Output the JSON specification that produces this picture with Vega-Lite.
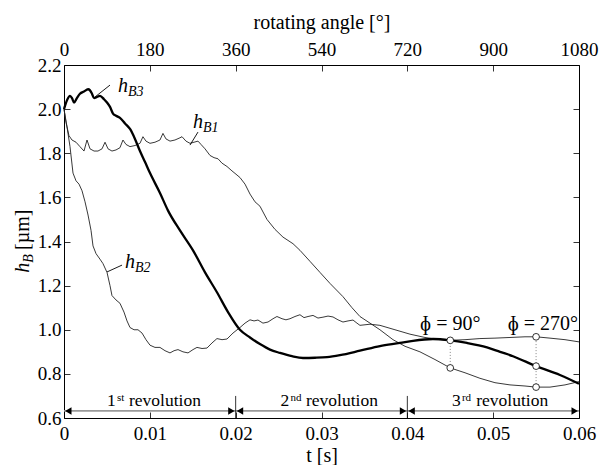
{
  "$schema": "https://vega.github.io/schema/vega-lite/v6.json",
  "width": 515,
  "height": 353,
  "autosize": {"type": "none"},
  "padding": {"left": 64, "top": 65, "right": 29, "bottom": 47},
  "background": "white",
  "config": {
    "font": "'Liberation Serif', 'Times New Roman', serif",
    "view": {"stroke": "black", "strokeWidth": 1},
    "axis": {"labelFont": "'Liberation Serif', 'Times New Roman', serif", "titleFont": "'Liberation Serif', 'Times New Roman', serif", "labelFontSize": 19, "titleFontSize": 20, "labelColor": "black", "titleColor": "black", "titleFontWeight": "normal", "tickColor": "black", "grid": false, "tickWidth": 0.8, "domain": false, "labelFlush": false, "labelOverlap": false},
    "text": {"font": "'Liberation Serif', 'Times New Roman', serif", "color": "black"}
  },
  "data": {"values": [
    {"k":"B3","t":0,"h":2.0},{"k":"B3","t":0.00035,"h":2.04},{"k":"B3","t":0.0007,"h":2.06},{"k":"B3","t":0.00093,"h":2.05},{"k":"B3","t":0.00117,"h":2.03},{"k":"B3","t":0.0015,"h":2.05},{"k":"B3","t":0.00186,"h":2.07},{"k":"B3","t":0.00233,"h":2.08},{"k":"B3","t":0.0028,"h":2.09},{"k":"B3","t":0.00303,"h":2.085},{"k":"B3","t":0.00326,"h":2.07},{"k":"B3","t":0.0035,"h":2.05},{"k":"B3","t":0.00384,"h":2.055},{"k":"B3","t":0.00419,"h":2.06},{"k":"B3","t":0.00466,"h":2.045},{"k":"B3","t":0.00501,"h":2.03},{"k":"B3","t":0.00536,"h":2.01},{"k":"B3","t":0.00571,"h":1.98},{"k":"B3","t":0.00606,"h":1.97},{"k":"B3","t":0.00652,"h":1.96},{"k":"B3","t":0.00711,"h":1.935},{"k":"B3","t":0.00769,"h":1.91},{"k":"B3","t":0.00827,"h":1.865},{"k":"B3","t":0.00885,"h":1.81},{"k":"B3","t":0.00944,"h":1.76},{"k":"B3","t":0.01002,"h":1.71},{"k":"B3","t":0.01118,"h":1.62},{"k":"B3","t":0.01212,"h":1.54},{"k":"B3","t":0.01351,"h":1.45},{"k":"B3","t":0.01503,"h":1.36},{"k":"B3","t":0.01643,"h":1.26},{"k":"B3","t":0.01782,"h":1.17},{"k":"B3","t":0.01911,"h":1.08},{"k":"B3","t":0.0205,"h":1.0},{"k":"B3","t":0.02167,"h":0.965},{"k":"B3","t":0.02283,"h":0.935},{"k":"B3","t":0.024,"h":0.91},{"k":"B3","t":0.02516,"h":0.895},{"k":"B3","t":0.02656,"h":0.88},{"k":"B3","t":0.02784,"h":0.872},{"k":"B3","t":0.02924,"h":0.873},{"k":"B3","t":0.03064,"h":0.876},{"k":"B3","t":0.03215,"h":0.885},{"k":"B3","t":0.03448,"h":0.905},{"k":"B3","t":0.03681,"h":0.926},{"k":"B3","t":0.03914,"h":0.94},{"k":"B3","t":0.04066,"h":0.95},{"k":"B3","t":0.04299,"h":0.958},{"k":"B3","t":0.045,"h":0.952},{"k":"B3","t":0.04695,"h":0.94},{"k":"B3","t":0.04928,"h":0.92},{"k":"B3","t":0.0508,"h":0.9},{"k":"B3","t":0.05231,"h":0.88},{"k":"B3","t":0.055,"h":0.835},{"k":"B3","t":0.05778,"h":0.795},{"k":"B3","t":0.06,"h":0.755},
    {"k":"B1","t":0,"h":2.0},{"k":"B1","t":0.00023,"h":1.94},{"k":"B1","t":0.00058,"h":1.88},{"k":"B1","t":0.00093,"h":1.86},{"k":"B1","t":0.0014,"h":1.85},{"k":"B1","t":0.00186,"h":1.83},{"k":"B1","t":0.00233,"h":1.81},{"k":"B1","t":0.00268,"h":1.86},{"k":"B1","t":0.00303,"h":1.82},{"k":"B1","t":0.0035,"h":1.81},{"k":"B1","t":0.00396,"h":1.81},{"k":"B1","t":0.00443,"h":1.82},{"k":"B1","t":0.00478,"h":1.85},{"k":"B1","t":0.00513,"h":1.82},{"k":"B1","t":0.00559,"h":1.81},{"k":"B1","t":0.00606,"h":1.815},{"k":"B1","t":0.00652,"h":1.825},{"k":"B1","t":0.00687,"h":1.86},{"k":"B1","t":0.00722,"h":1.84},{"k":"B1","t":0.00769,"h":1.83},{"k":"B1","t":0.00827,"h":1.835},{"k":"B1","t":0.00885,"h":1.845},{"k":"B1","t":0.0092,"h":1.875},{"k":"B1","t":0.00955,"h":1.855},{"k":"B1","t":0.01002,"h":1.845},{"k":"B1","t":0.0106,"h":1.85},{"k":"B1","t":0.01118,"h":1.86},{"k":"B1","t":0.01153,"h":1.89},{"k":"B1","t":0.01188,"h":1.865},{"k":"B1","t":0.01235,"h":1.855},{"k":"B1","t":0.01293,"h":1.86},{"k":"B1","t":0.01351,"h":1.87},{"k":"B1","t":0.01375,"h":1.875},{"k":"B1","t":0.01421,"h":1.855},{"k":"B1","t":0.01468,"h":1.845},{"k":"B1","t":0.01515,"h":1.85},{"k":"B1","t":0.01561,"h":1.855},{"k":"B1","t":0.01596,"h":1.84},{"k":"B1","t":0.01643,"h":1.82},{"k":"B1","t":0.01701,"h":1.79},{"k":"B1","t":0.01748,"h":1.78},{"k":"B1","t":0.01794,"h":1.775},{"k":"B1","t":0.01841,"h":1.755},{"k":"B1","t":0.01899,"h":1.74},{"k":"B1","t":0.01957,"h":1.72},{"k":"B1","t":0.02004,"h":1.705},{"k":"B1","t":0.0205,"h":1.69},{"k":"B1","t":0.02109,"h":1.66},{"k":"B1","t":0.02167,"h":1.615},{"k":"B1","t":0.02225,"h":1.58},{"k":"B1","t":0.02283,"h":1.56},{"k":"B1","t":0.02365,"h":1.5},{"k":"B1","t":0.02458,"h":1.455},{"k":"B1","t":0.02551,"h":1.42},{"k":"B1","t":0.02668,"h":1.39},{"k":"B1","t":0.02749,"h":1.36},{"k":"B1","t":0.02866,"h":1.31},{"k":"B1","t":0.02982,"h":1.26},{"k":"B1","t":0.03099,"h":1.21},{"k":"B1","t":0.0325,"h":1.15},{"k":"B1","t":0.03355,"h":1.1},{"k":"B1","t":0.03448,"h":1.06},{"k":"B1","t":0.03565,"h":1.03},{"k":"B1","t":0.03681,"h":1.0},{"k":"B1","t":0.03833,"h":0.955},{"k":"B1","t":0.03973,"h":0.925},{"k":"B1","t":0.04147,"h":0.9},{"k":"B1","t":0.04322,"h":0.865},{"k":"B1","t":0.045,"h":0.827},{"k":"B1","t":0.04672,"h":0.805},{"k":"B1","t":0.04846,"h":0.78},{"k":"B1","t":0.05021,"h":0.76},{"k":"B1","t":0.05196,"h":0.75},{"k":"B1","t":0.05371,"h":0.745},{"k":"B1","t":0.055,"h":0.74},{"k":"B1","t":0.05662,"h":0.74},{"k":"B1","t":0.05837,"h":0.75},{"k":"B1","t":0.06,"h":0.765},
    {"k":"B2","t":0,"h":2.0},{"k":"B2","t":0.00035,"h":1.92},{"k":"B2","t":0.0007,"h":1.83},{"k":"B2","t":0.00105,"h":1.71},{"k":"B2","t":0.0014,"h":1.675},{"k":"B2","t":0.00175,"h":1.66},{"k":"B2","t":0.0021,"h":1.63},{"k":"B2","t":0.00245,"h":1.58},{"k":"B2","t":0.0028,"h":1.52},{"k":"B2","t":0.00315,"h":1.45},{"k":"B2","t":0.00338,"h":1.38},{"k":"B2","t":0.00373,"h":1.345},{"k":"B2","t":0.00419,"h":1.32},{"k":"B2","t":0.00454,"h":1.3},{"k":"B2","t":0.00501,"h":1.26},{"k":"B2","t":0.00536,"h":1.2},{"k":"B2","t":0.00559,"h":1.155},{"k":"B2","t":0.00606,"h":1.135},{"k":"B2","t":0.00652,"h":1.12},{"k":"B2","t":0.00699,"h":1.08},{"k":"B2","t":0.00734,"h":1.04},{"k":"B2","t":0.00769,"h":1.01},{"k":"B2","t":0.00816,"h":1.0},{"k":"B2","t":0.00862,"h":1.0},{"k":"B2","t":0.00909,"h":0.985},{"k":"B2","t":0.00955,"h":0.955},{"k":"B2","t":0.01002,"h":0.93},{"k":"B2","t":0.0106,"h":0.92},{"k":"B2","t":0.01118,"h":0.92},{"k":"B2","t":0.01177,"h":0.905},{"k":"B2","t":0.01235,"h":0.895},{"k":"B2","t":0.01282,"h":0.905},{"k":"B2","t":0.01328,"h":0.91},{"k":"B2","t":0.01386,"h":0.9},{"k":"B2","t":0.01445,"h":0.895},{"k":"B2","t":0.01503,"h":0.91},{"k":"B2","t":0.01549,"h":0.92},{"k":"B2","t":0.01608,"h":0.915},{"k":"B2","t":0.01666,"h":0.917},{"k":"B2","t":0.01724,"h":0.94},{"k":"B2","t":0.01782,"h":0.96},{"k":"B2","t":0.01841,"h":0.955},{"k":"B2","t":0.01899,"h":0.958},{"k":"B2","t":0.01969,"h":0.985},{"k":"B2","t":0.0205,"h":1.01},{"k":"B2","t":0.02109,"h":1.03},{"k":"B2","t":0.02167,"h":1.045},{"k":"B2","t":0.02214,"h":1.04},{"k":"B2","t":0.0226,"h":1.044},{"k":"B2","t":0.02318,"h":1.03},{"k":"B2","t":0.02377,"h":1.035},{"k":"B2","t":0.02435,"h":1.05},{"k":"B2","t":0.02481,"h":1.06},{"k":"B2","t":0.0254,"h":1.05},{"k":"B2","t":0.02586,"h":1.045},{"k":"B2","t":0.02633,"h":1.05},{"k":"B2","t":0.02691,"h":1.06},{"k":"B2","t":0.02749,"h":1.068},{"k":"B2","t":0.02796,"h":1.055},{"k":"B2","t":0.02843,"h":1.06},{"k":"B2","t":0.02901,"h":1.065},{"k":"B2","t":0.02959,"h":1.053},{"k":"B2","t":0.03017,"h":1.057},{"k":"B2","t":0.03076,"h":1.062},{"k":"B2","t":0.03134,"h":1.058},{"k":"B2","t":0.03192,"h":1.045},{"k":"B2","t":0.0325,"h":1.035},{"k":"B2","t":0.03309,"h":1.04},{"k":"B2","t":0.03367,"h":1.044},{"k":"B2","t":0.03413,"h":1.03},{"k":"B2","t":0.03448,"h":1.02},{"k":"B2","t":0.03565,"h":1.025},{"k":"B2","t":0.03681,"h":1.02},{"k":"B2","t":0.03856,"h":1.0},{"k":"B2","t":0.04031,"h":0.98},{"k":"B2","t":0.04206,"h":0.965},{"k":"B2","t":0.0438,"h":0.955},{"k":"B2","t":0.045,"h":0.952},{"k":"B2","t":0.04672,"h":0.955},{"k":"B2","t":0.04846,"h":0.96},{"k":"B2","t":0.05021,"h":0.962},{"k":"B2","t":0.05196,"h":0.965},{"k":"B2","t":0.05371,"h":0.968},{"k":"B2","t":0.055,"h":0.968},{"k":"B2","t":0.05662,"h":0.962},{"k":"B2","t":0.05837,"h":0.955},{"k":"B2","t":0.06,"h":0.945},
    {"k":"lead","t":0.00361,"h":2.055,"t2":0.00536,"h2":2.109},
    {"k":"lead","t":0.01468,"h":1.837,"t2":0.01561,"h2":1.896},
    {"k":"lead","t":0.00501,"h":1.262,"t2":0.00676,"h2":1.293},
    {"k":"dot","t":0.045,"h":0.827,"t2":0.045,"h2":0.952},
    {"k":"dot","t":0.055,"h":0.74,"t2":0.055,"h2":0.968},
    {"k":"arr","t":0,"h":0.632,"t2":0.02,"h2":0.632},
    {"k":"arr","t":0.02,"h":0.632,"t2":0.04,"h2":0.632},
    {"k":"arr","t":0.04,"h":0.632,"t2":0.06,"h2":0.632},
    {"k":"sep","t":0.02,"h":0.6,"t2":0.02,"h2":0.7},
    {"k":"sep","t":0.04,"h":0.6,"t2":0.04,"h2":0.7},
    {"k":"circ","t":0.045,"h":0.952},{"k":"circ","t":0.045,"h":0.827},
    {"k":"circ","t":0.055,"h":0.968},{"k":"circ","t":0.055,"h":0.835},{"k":"circ","t":0.055,"h":0.74},
    {"k":"al","t":0.0005,"h":0.632},{"k":"al","t":0.0205,"h":0.632},{"k":"al","t":0.0405,"h":0.632},
    {"k":"ar","t":0.0195,"h":0.632},{"k":"ar","t":0.0395,"h":0.632},{"k":"ar","t":0.0595,"h":0.632},
    {"k":"h","t":0.00629,"h":2.078,"text":"h"},{"k":"sub","t":0.00746,"h":2.059,"text":"B3"},
    {"k":"h","t":0.01503,"h":1.914,"text":"h"},{"k":"sub","t":0.01619,"h":1.896,"text":"B1"},
    {"k":"h","t":0.00711,"h":1.28,"text":"h"},{"k":"sub","t":0.00827,"h":1.262,"text":"B2"},
    {"k":"yh","t":-0.00478,"h":1.281,"text":"h"},
    {"k":"yb","t":-0.00408,"h":1.323,"text":"B"},
    {"k":"yu","t":-0.00478,"h":1.453,"text":"[µm]"},
    {"k":"phi","t":0.045,"h":0.999,"text":"ɸ = 90°"},
    {"k":"phi","t":0.0558,"h":0.999,"text":"ɸ = 270°"},
    {"k":"rev","t":0.00501,"h":0.654,"text":"1"},{"k":"sup","t":0.00617,"h":0.677,"text":"st"},{"k":"rev","t":0.00757,"h":0.654,"text":"revolution"},
    {"k":"rev","t":0.02523,"h":0.654,"text":"2"},{"k":"sup","t":0.02638,"h":0.677,"text":"nd"},{"k":"rev","t":0.02819,"h":0.654,"text":"revolution"},
    {"k":"rev","t":0.04521,"h":0.654,"text":"3"},{"k":"sup","t":0.04636,"h":0.677,"text":"rd"},{"k":"rev","t":0.04803,"h":0.654,"text":"revolution"}
  ]},
  "layer": [
    {
      "transform": [{"filter": "datum.k == 'B1' || datum.k == 'B2'"}],
      "mark": {"type": "line", "color": "#222222", "strokeWidth": 0.9},
      "encoding": {
        "x": {"field": "t", "type": "quantitative", "scale": {"domain": [0, 0.06], "nice": false, "zero": false},
          "axis": {"orient": "bottom", "values": [0, 0.01, 0.02, 0.03, 0.04, 0.05, 0.06], "labelExpr": "datum.value == 0 ? '0' : format(datum.value, '.2f')", "tickSize": -6, "labelPadding": 12, "title": "t [s]", "titlePadding": 2}},
        "y": {"field": "h", "type": "quantitative", "scale": {"domain": [0.6, 2.2], "nice": false, "zero": false},
          "axis": {"orient": "left", "values": [0.6, 0.8, 1.0, 1.2, 1.4, 1.6, 1.8, 2.0, 2.2], "format": ".1f", "tickSize": -6, "labelPadding": 9, "title": null}},
        "detail": {"field": "k"}
      }
    },
    {
      "transform": [{"filter": "datum.k == 'B3'"}],
      "mark": {"type": "line", "color": "black", "strokeWidth": 2.3, "interpolate": "monotone"},
      "encoding": {
        "x": {"field": "t", "type": "quantitative", "scale": {"domain": [0, 0.06], "nice": false, "zero": false},
          "axis": {"orient": "top", "values": [0, 0.01, 0.02, 0.03, 0.04, 0.05, 0.06], "labelExpr": "format(datum.value * 18000, 'd')", "tickSize": -6, "labelPadding": 12, "title": "rotating angle [°]", "titlePadding": 8}},
        "y": {"field": "h", "type": "quantitative", "scale": {"domain": [0.6, 2.2], "nice": false, "zero": false},
          "axis": {"orient": "right", "values": [0.6, 0.8, 1.0, 1.2, 1.4, 1.6, 1.8, 2.0, 2.2], "labels": false, "tickSize": -6, "title": null}}
      }
    },
    {
      "transform": [{"filter": "datum.k == 'dot'"}],
      "mark": {"type": "rule", "color": "#666666", "strokeWidth": 0.8, "strokeDash": [1, 2]},
      "encoding": {
        "x": {"field": "t", "type": "quantitative", "scale": {"domain": [0, 0.06], "nice": false, "zero": false}, "axis": null},
        "y": {"field": "h", "type": "quantitative", "scale": {"domain": [0.6, 2.2], "nice": false, "zero": false}, "axis": null},
        "y2": {"field": "h2"}
      }
    },
    {
      "transform": [{"filter": "datum.k == 'circ'"}],
      "mark": {"type": "point", "filled": true, "fill": "white", "stroke": "black", "strokeWidth": 0.8, "size": 45, "opacity": 1},
      "encoding": {
        "x": {"field": "t", "type": "quantitative", "scale": {"domain": [0, 0.06], "nice": false, "zero": false}, "axis": null},
        "y": {"field": "h", "type": "quantitative", "scale": {"domain": [0.6, 2.2], "nice": false, "zero": false}, "axis": null}
      }
    },
    {
      "transform": [{"filter": "datum.k == 'lead'"}],
      "mark": {"type": "rule", "color": "black", "strokeWidth": 0.9},
      "encoding": {
        "x": {"field": "t", "type": "quantitative", "scale": {"domain": [0, 0.06], "nice": false, "zero": false}, "axis": null},
        "y": {"field": "h", "type": "quantitative", "scale": {"domain": [0.6, 2.2], "nice": false, "zero": false}, "axis": null},
        "x2": {"field": "t2"},
        "y2": {"field": "h2"}
      }
    },
    {
      "transform": [{"filter": "datum.k == 'arr'"}],
      "mark": {"type": "rule", "color": "#9a9a9a", "strokeWidth": 1.8},
      "encoding": {
        "x": {"field": "t", "type": "quantitative", "scale": {"domain": [0, 0.06], "nice": false, "zero": false}, "axis": null},
        "y": {"field": "h", "type": "quantitative", "scale": {"domain": [0.6, 2.2], "nice": false, "zero": false}, "axis": null},
        "x2": {"field": "t2"}
      }
    },
    {
      "transform": [{"filter": "datum.k == 'sep'"}],
      "mark": {"type": "rule", "color": "black", "strokeWidth": 0.8},
      "encoding": {
        "x": {"field": "t", "type": "quantitative", "scale": {"domain": [0, 0.06], "nice": false, "zero": false}, "axis": null},
        "y": {"field": "h", "type": "quantitative", "scale": {"domain": [0.6, 2.2], "nice": false, "zero": false}, "axis": null},
        "y2": {"field": "h2"}
      }
    },
    {
      "transform": [{"filter": "datum.k == 'al'"}],
      "mark": {"type": "point", "shape": "triangle-left", "filled": true, "color": "black", "size": 55, "opacity": 1},
      "encoding": {
        "x": {"field": "t", "type": "quantitative", "scale": {"domain": [0, 0.06], "nice": false, "zero": false}, "axis": null},
        "y": {"field": "h", "type": "quantitative", "scale": {"domain": [0.6, 2.2], "nice": false, "zero": false}, "axis": null}
      }
    },
    {
      "transform": [{"filter": "datum.k == 'ar'"}],
      "mark": {"type": "point", "shape": "triangle-right", "filled": true, "color": "black", "size": 55, "opacity": 1},
      "encoding": {
        "x": {"field": "t", "type": "quantitative", "scale": {"domain": [0, 0.06], "nice": false, "zero": false}, "axis": null},
        "y": {"field": "h", "type": "quantitative", "scale": {"domain": [0.6, 2.2], "nice": false, "zero": false}, "axis": null}
      }
    },
    {
      "transform": [{"filter": "datum.k == 'h'"}],
      "mark": {"type": "text", "fontSize": 20, "fontStyle": "italic", "align": "left", "baseline": "alphabetic"},
      "encoding": {
        "x": {"field": "t", "type": "quantitative", "scale": {"domain": [0, 0.06], "nice": false, "zero": false}, "axis": null},
        "y": {"field": "h", "type": "quantitative", "scale": {"domain": [0.6, 2.2], "nice": false, "zero": false}, "axis": null},
        "text": {"field": "text"}
      }
    },
    {
      "transform": [{"filter": "datum.k == 'sub'"}],
      "mark": {"type": "text", "fontSize": 14, "fontStyle": "italic", "align": "left", "baseline": "alphabetic"},
      "encoding": {
        "x": {"field": "t", "type": "quantitative", "scale": {"domain": [0, 0.06], "nice": false, "zero": false}, "axis": null},
        "y": {"field": "h", "type": "quantitative", "scale": {"domain": [0.6, 2.2], "nice": false, "zero": false}, "axis": null},
        "text": {"field": "text"}
      }
    },
    {
      "transform": [{"filter": "datum.k == 'yh'"}],
      "mark": {"type": "text", "fontSize": 20, "fontStyle": "italic", "align": "center", "baseline": "middle", "angle": 270},
      "encoding": {
        "x": {"field": "t", "type": "quantitative", "scale": {"domain": [0, 0.06], "nice": false, "zero": false}, "axis": null},
        "y": {"field": "h", "type": "quantitative", "scale": {"domain": [0.6, 2.2], "nice": false, "zero": false}, "axis": null},
        "text": {"field": "text"}
      }
    },
    {
      "transform": [{"filter": "datum.k == 'yb'"}],
      "mark": {"type": "text", "fontSize": 14, "fontStyle": "italic", "align": "center", "baseline": "middle", "angle": 270},
      "encoding": {
        "x": {"field": "t", "type": "quantitative", "scale": {"domain": [0, 0.06], "nice": false, "zero": false}, "axis": null},
        "y": {"field": "h", "type": "quantitative", "scale": {"domain": [0.6, 2.2], "nice": false, "zero": false}, "axis": null},
        "text": {"field": "text"}
      }
    },
    {
      "transform": [{"filter": "datum.k == 'yu'"}],
      "mark": {"type": "text", "fontSize": 20, "align": "center", "baseline": "middle", "angle": 270},
      "encoding": {
        "x": {"field": "t", "type": "quantitative", "scale": {"domain": [0, 0.06], "nice": false, "zero": false}, "axis": null},
        "y": {"field": "h", "type": "quantitative", "scale": {"domain": [0.6, 2.2], "nice": false, "zero": false}, "axis": null},
        "text": {"field": "text"}
      }
    },
    {
      "transform": [{"filter": "datum.k == 'phi'"}],
      "mark": {"type": "text", "fontSize": 20, "align": "center", "baseline": "alphabetic"},
      "encoding": {
        "x": {"field": "t", "type": "quantitative", "scale": {"domain": [0, 0.06], "nice": false, "zero": false}, "axis": null},
        "y": {"field": "h", "type": "quantitative", "scale": {"domain": [0.6, 2.2], "nice": false, "zero": false}, "axis": null},
        "text": {"field": "text"}
      }
    },
    {
      "transform": [{"filter": "datum.k == 'rev'"}],
      "mark": {"type": "text", "fontSize": 17.5, "align": "left", "baseline": "alphabetic"},
      "encoding": {
        "x": {"field": "t", "type": "quantitative", "scale": {"domain": [0, 0.06], "nice": false, "zero": false}, "axis": null},
        "y": {"field": "h", "type": "quantitative", "scale": {"domain": [0.6, 2.2], "nice": false, "zero": false}, "axis": null},
        "text": {"field": "text"}
      }
    },
    {
      "transform": [{"filter": "datum.k == 'sup'"}],
      "mark": {"type": "text", "fontSize": 11, "align": "left", "baseline": "alphabetic"},
      "encoding": {
        "x": {"field": "t", "type": "quantitative", "scale": {"domain": [0, 0.06], "nice": false, "zero": false}, "axis": null},
        "y": {"field": "h", "type": "quantitative", "scale": {"domain": [0.6, 2.2], "nice": false, "zero": false}, "axis": null},
        "text": {"field": "text"}
      }
    }
  ],
  "resolve": {"axis": {"x": "independent", "y": "independent"}}
}
